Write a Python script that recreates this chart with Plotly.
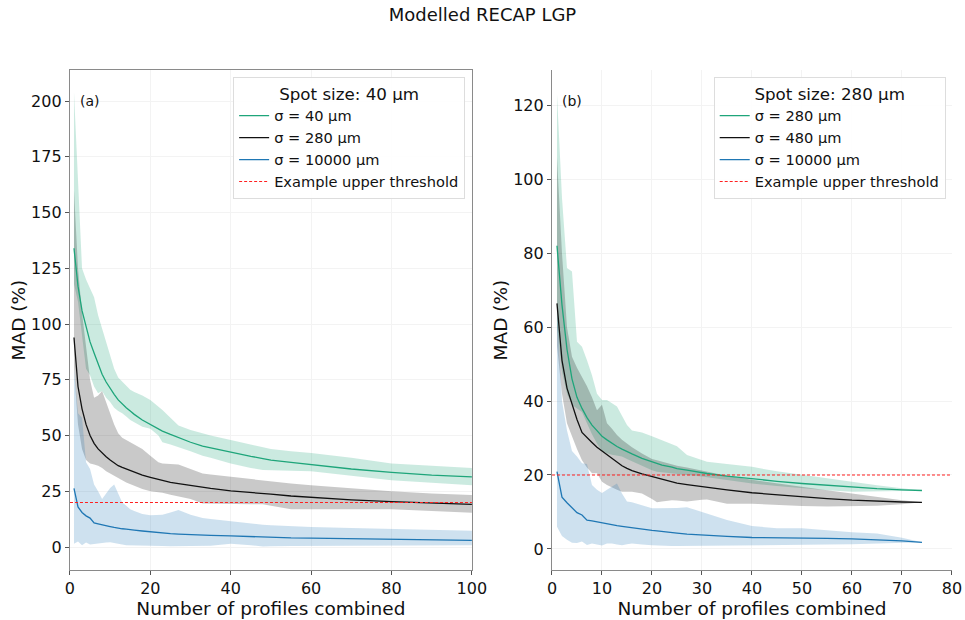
import plotly.graph_objects as go

# ---------------- Panel (a): spot size 40 um ----------------
xa = [1, 2, 3, 4, 5, 6, 7, 8, 9, 10, 11, 12, 13, 14, 15, 16, 18, 20, 22, 23,
      25, 27, 30, 33, 35, 40, 45, 48, 50, 55, 60, 70, 80, 90, 100]

a40_mid = [134, 117, 106, 99, 92, 87, 82, 77.5, 74, 71, 68.5, 66, 64, 62.5, 61, 59.5, 57, 55, 53, 52,
           50.5, 49, 47, 45.3, 44.5, 42.5, 40.7, 39.7, 39, 38, 37, 35, 33.5, 32.3, 31.5]
a40_hi = [204, 165, 125, 120, 116, 112, 104, 98, 92, 86, 80, 76, 74, 72, 70.5, 69.5, 68, 66, 63, 61.5,
          58, 54.5, 52.5, 51, 50, 48, 46, 44.5, 44, 43, 42.2, 40, 37.5, 36.5, 35.5]
a40_lo = [118, 110, 95, 80, 77, 72, 69, 70, 67, 65, 62.5, 61, 60, 58.5, 57, 56, 54, 53, 50, 47,
          46, 45, 43, 41, 40, 37.5, 35.5, 34.5, 34.3, 34.2, 34, 32, 30, 29, 27.7]

a280_mid = [94, 72, 62, 55, 50, 46.5, 44, 42, 40.5, 39, 37.7, 36.5, 35.7, 35, 34.2, 33.5, 32.3, 31.3, 30.3, 29.9,
            29, 28.4, 27.5, 26.7, 26.3, 25.2, 24.3, 23.9, 23.7, 22.9, 22.3, 21.2, 20.4, 19.7, 19.1]
a280_hi = [160, 125, 105, 90, 75, 67, 68, 70, 65, 60, 55, 51, 49, 48, 47, 46, 44, 41, 38, 37.5,
           37.2, 37, 35, 33, 32.5, 31.5, 30.3, 29.8, 29.5, 28.5, 27.7, 26.3, 25, 24, 23.3]
a280_lo = [80, 55, 44, 39, 37.5, 37, 36.5, 35.5, 34, 33, 32, 31, 30, 29, 28, 27.5, 26, 25, 24.5, 24.3,
           23.5, 22.5, 21.5, 19.5, 19.3, 19.2, 19.2, 19.2, 18.5, 17, 17, 17, 17, 16.2, 15.4]

a1e4_mid = [26.3, 18, 15.5, 14, 13, 10.8, 10.4, 10.1, 9.6, 9.2, 8.8, 8.4, 8.2, 8.0, 7.9, 7.6, 7.2, 6.8, 6.4, 6.2,
            6, 5.8, 5.5, 5.3, 5.2, 5, 4.6, 4.4, 4.3, 4.1, 4, 3.8, 3.6, 3.3, 3]
a1e4_hi = [80, 60, 58, 38, 35, 28, 25, 21.5, 24, 26.5, 28, 24, 20, 18.5, 17, 16.2, 14.8, 14.3, 14.4, 14.5,
           15.5, 16.6, 14.5, 13, 12.6, 11.5, 10.5, 10, 9.8, 9.3, 9, 8.5, 8, 7.6, 7.3]
a1e4_lo = [1.5, 2.5, 0.8, 2, 1.2, 1.3, 1.6, 1.8, 2, 2.2, 1.9, 1.6, 1.2, 0.8, 0.8, 0.7, 0.6, 0.6, 0.5, 0.5,
           0.4, 0.4, 0.5, 0.5, 0.6, 1.5, 0.8, 0.3, 0.4, 0.5, 0.6, 0.7, 0.8, 0.8, 0.8]

# ---------------- Panel (b): spot size 280 um ----------------
xb = [1, 2, 3, 4, 5, 6, 7, 8, 9, 10, 11, 12, 13, 14, 15, 16, 18, 20, 21, 22,
      24, 25, 27, 30, 31, 35, 40, 45, 50, 55, 60, 65, 70, 74]

b280_mid = [82, 66, 54, 46, 41, 38, 35.5, 33.5, 32, 30.5, 29.5, 28.5, 27.7, 27, 26.3, 25.7, 24.5, 23.5, 23.1, 22.7,
            22.1, 21.7, 21.3, 20.6, 20.4, 19.7, 18.9, 18.3, 17.7, 17.2, 16.7, 16.3, 16, 15.8]
b280_hi = [123, 95, 76, 75, 56, 54.7, 51, 47, 42, 40.3, 40.3, 39.5, 38.5, 36, 33.5, 32, 31.5, 30.5, 30, 29.5,
           28.3, 27.8, 25.4, 24, 23.6, 23, 22.2, 21, 20, 19, 18.2, 17.2, 16.4, 15.8]
b280_lo = [60, 48, 42, 39, 38, 37, 34, 31, 28.5, 26.5, 25.9, 25.5, 25.2, 25, 24.3, 23.5, 22.5, 21.3, 20.9, 20.8,
           20.5, 20.3, 20, 19.6, 19.5, 18.7, 17.7, 17, 16.4, 15.9, 15.5, 15.6, 15.7, 15.8]

b480_mid = [66.4, 51, 43.5, 39, 35, 31.5, 30, 28.8, 27.5, 26.5, 25.4, 24.3, 23.4, 22.5, 21.8, 21.2, 20.3, 19.6, 19.2, 18.8,
            18.1, 17.8, 17.4, 16.8, 16.6, 16, 15.2, 14.6, 14.1, 13.6, 13.2, 12.9, 12.7, 12.6]
b480_hi = [106, 80, 60, 52, 49, 46.5, 44, 41, 37.5, 39, 34, 32.5, 30.8, 29.5, 28.5, 27.5, 25.8, 24.3, 24, 23.6,
           22.8, 22.5, 22, 21.2, 21, 19.8, 18.7, 17.7, 16.8, 15.9, 15, 14, 13.2, 12.6]
b480_lo = [55, 42, 34, 30.5, 27, 24, 22, 20.5, 20.5, 18.2, 17.3, 16.6, 16, 15.5, 15.5, 15.5, 15, 13.5, 12.6, 12.8,
           13.2, 13.1, 12.8, 13.3, 13.4, 12.2, 12.2, 11.9, 11.6, 11.5, 11.5, 11.7, 12.1, 12.6]

b1e4_mid = [20.9, 14, 12.5, 11, 9.8, 9.2, 7.8, 7.6, 7.3, 7.1, 6.8, 6.4, 6.3, 6.1, 5.9, 5.6, 5.3, 5, 4.9, 4.8,
            4.4, 4.3, 4.0, 3.7, 3.6, 3.4, 3.1, 3.05, 3.0, 2.85, 2.7, 2.5, 2.2, 1.8]
b1e4_hi = [65, 40, 32, 26.5, 25, 23.2, 23, 17.3, 16, 15.1, 16, 16.8, 17.7, 15, 12.8, 12.6, 11.8, 11, 11, 11,
           11, 11.1, 11.3, 10, 9.6, 7.8, 6.2, 5.6, 5.6, 5, 4.5, 4.2, 3, 1.8]
b1e4_lo = [6, 3.5, 2.5, 1.7, 1.6, 2, 1.1, 1.5, 1.2, 0.9, 1.5, 1.5, 1.2, 1.0, 1.3, 1.5, 1.2, 1.0, 0.9, 0.8,
           0.8, 0.8, 0.8, 0.8, 0.8, 0.9, 0.9, 1.0, 1.1, 1.2, 1.3, 1.4, 1.6, 1.8]

threshold = 20
xa_range = [0, 100]
xb_range = [0, 80]

legend_a = ["σ = 40 μm", "σ = 280 μm", "σ = 10000 μm", "Example upper threshold"]
legend_b = ["σ = 280 μm", "σ = 480 μm", "σ = 10000 μm", "Example upper threshold"]

GREEN = "#1ea57a"
BLACK = "#111111"
BLUE = "#1f77b4"
FILLS = {GREEN: "rgba(30,165,122,0.23)", BLACK: "rgba(0,0,0,0.21)", BLUE: "rgba(31,119,180,0.22)"}

FONT = "DejaVu Sans"
fig = go.Figure()


def add_panel(x, series, names, xr, xaxis, yaxis, legend):
    # shaded spread bands
    for mid, hi, lo, color in series:
        fig.add_trace(go.Scatter(
            x=list(x) + list(x)[::-1], y=list(hi) + list(lo)[::-1],
            fill="toself", fillcolor=FILLS[color], line=dict(width=0),
            mode="lines", hoverinfo="skip", showlegend=False,
            xaxis=xaxis, yaxis=yaxis))
    # median curves
    for (mid, hi, lo, color), name in zip(series, names):
        fig.add_trace(go.Scatter(
            x=x, y=mid, mode="lines", name=name,
            line=dict(color=color, width=1.3),
            xaxis=xaxis, yaxis=yaxis, legend=legend))
    # threshold line
    fig.add_trace(go.Scatter(
        x=xr, y=[threshold, threshold], mode="lines", name=names[-1],
        line=dict(color="#ff2020", width=1.1, dash="3px,2px"),
        xaxis=xaxis, yaxis=yaxis, legend=legend))


add_panel(xa, [(a40_mid, a40_hi, a40_lo, GREEN),
               (a280_mid, a280_hi, a280_lo, BLACK),
               (a1e4_mid, a1e4_hi, a1e4_lo, BLUE)],
          legend_a, xa_range, "x", "y", "legend")
add_panel(xb, [(b280_mid, b280_hi, b280_lo, GREEN),
               (b480_mid, b480_hi, b480_lo, BLACK),
               (b1e4_mid, b1e4_hi, b1e4_lo, BLUE)],
          legend_b, xb_range, "x2", "y2", "legend2")

axis_common = dict(
    showgrid=True, gridcolor="#f3f3f3", gridwidth=1, zeroline=False,
    showline=True, linecolor="#8a8a8a", linewidth=1.2,
    ticks="outside", ticklen=4, tickcolor="#555555",
    tickfont=dict(size=16, color="#111111", family=FONT),
    automargin=False,
)
xtitle = dict(text="Number of profiles combined", font=dict(size=18.5, family=FONT, color="#111111"), standoff=4)
ytitle = dict(text="MAD (%)", font=dict(size=18.5, family=FONT, color="#111111"), standoff=0)

legend_common = dict(
    bgcolor="rgba(255,255,255,0.9)", bordercolor="#dddddd", borderwidth=1,
    font=dict(size=14.6, family=FONT, color="#111111"),
    xanchor="right", yanchor="top", y=0.876,
    tracegroupgap=0, itemwidth=30,
)

fig.update_layout(
    width=965, height=620,
    margin=dict(l=0, r=0, t=0, b=0),
    paper_bgcolor="white", plot_bgcolor="white",
    font=dict(family=FONT, color="#111111"),
    title=dict(text="Modelled RECAP LGP", x=0.5, xanchor="center", y=0.976, yanchor="middle",
               font=dict(size=18, family=FONT, color="#111111")),
    xaxis=dict(domain=[0.0725, 0.489], range=xa_range, dtick=20, mirror=True,
               title=xtitle, anchor="y", **axis_common),
    yaxis=dict(domain=[0.0806, 0.887], range=[-10.3, 213.9], tickvals=[0, 25, 50, 75, 100, 125, 150, 175, 200],
               mirror=True, title=ytitle, anchor="x", **axis_common),
    xaxis2=dict(domain=[0.572, 0.9865], range=xb_range, dtick=10,
                title=xtitle, anchor="y2", **axis_common),
    yaxis2=dict(domain=[0.0806, 0.887], range=[-5.7, 129.5], dtick=20,
                title=ytitle, anchor="x2", **axis_common),
    legend=dict(x=0.482, title=dict(text="Spot size: 40 μm", side="top center",
                                    font=dict(size=16.7, family=FONT)), **legend_common),
    legend2=dict(x=0.980, title=dict(text="Spot size: 280 μm", side="top center",
                                     font=dict(size=16.7, family=FONT)), **legend_common),
    annotations=[
        dict(text="(a)", xref="x domain", yref="y domain", x=0.02, y=0.938,
             xanchor="left", yanchor="middle", showarrow=False, font=dict(size=14, family=FONT)),
        dict(text="(b)", xref="x2 domain", yref="y2 domain", x=0.02, y=0.938,
             xanchor="left", yanchor="middle", showarrow=False, font=dict(size=14, family=FONT)),
    ],
)

fig.write_html("out.html")
